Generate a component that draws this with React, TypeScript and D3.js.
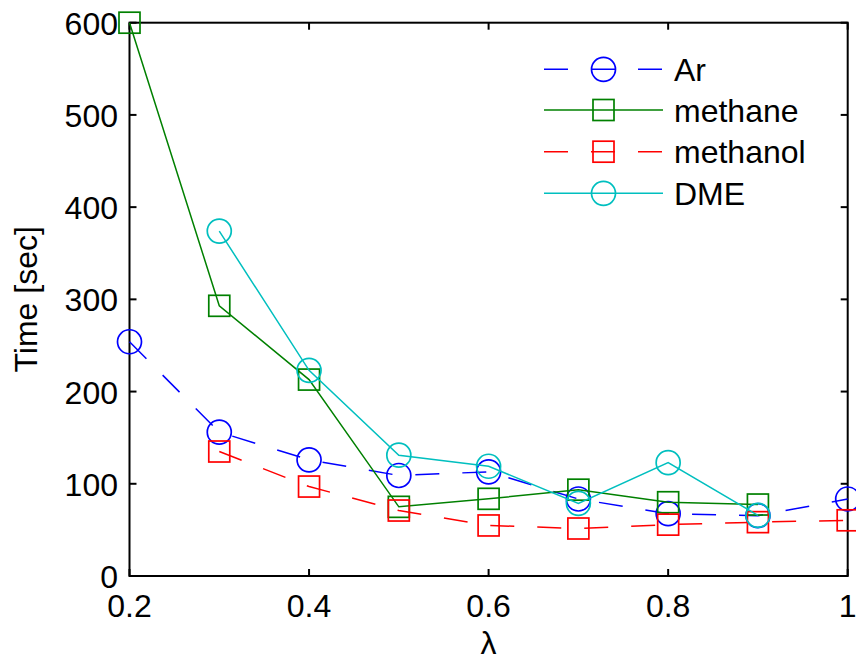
import React from 'react';
import * as d3 from 'd3';

// lambda values and measured times [sec]
const lambdas = [0.2, 0.3, 0.4, 0.5, 0.6, 0.7, 0.8, 0.9, 1.0];
const arTimes = [254, 156, 126, 109, 113, 83.5, 67.6, 65.4, 83.5];
const methaneLambdas = [0.2, 0.3, 0.4, 0.5, 0.6, 0.7, 0.8, 0.9];
const methaneTimes = [600, 293, 213, 75, 83.7, 93.6, 80, 77.5];
const methanolLambdas = [0.3, 0.4, 0.5, 0.6, 0.7, 0.8, 0.9, 1.0];
const methanolTimes = [135, 97, 71, 54.8, 51.5, 55.7, 58.4, 60.4];
const dmeLambdas = [0.3, 0.4, 0.5, 0.6, 0.7, 0.8, 0.9];
const dmeTimes = [374, 223, 131, 119, 78.8, 122.9, 65.8];

const xTicks = [0.2, 0.4, 0.6, 0.8, 1];
const yTicks = [0, 100, 200, 300, 400, 500, 600];

const series = [
  { name: 'Ar', xs: lambdas, ys: arTimes, color: '#0000ff', dash: '24,23', marker: 'circle' },
  { name: 'methane', xs: methaneLambdas, ys: methaneTimes, color: '#008000', dash: null, marker: 'square' },
  { name: 'methanol', xs: methanolLambdas, ys: methanolTimes, color: '#ff0000', dash: '24,23', marker: 'square' },
  { name: 'DME', xs: dmeLambdas, ys: dmeTimes, color: '#00bfbf', dash: null, marker: 'circle' },
];

const W = 856;
const H = 662;
const left = 129.5;
const right = 847.7;
const top = 22.7;
const bottom = 576;
const font = 'Liberation Sans, Arial, Helvetica, sans-serif';

const Marker = ({ type, x, y, color }) =>
  type === 'circle' ? (
    <circle cx={x} cy={y} r={12} fill="none" stroke={color} strokeWidth={1.7} />
  ) : (
    <rect x={x - 10.5} y={y - 10.5} width={21} height={21} fill="none" stroke={color} strokeWidth={1.7} />
  );

export default function App() {
  const x = d3.scaleLinear().domain([0.2, 1]).range([left, right]);
  const y = d3.scaleLinear().domain([0, 600]).range([bottom, top]);
  const line = d3.line<[number, number]>().x(d => x(d[0])).y(d => y(d[1]));

  const legendX0 = 544;
  const legendX1 = 663;
  const legendMx = 603.5;
  const legendY = [69.3, 110, 151.7, 193.3];

  return (
    <svg width={W} height={H} style={{ position: 'absolute', left: 0, top: 0, background: '#fff' }}
      fontFamily={font}>
      <rect x={0} y={0} width={W} height={H} fill="#fff" />

      {/* axes box */}
      <rect x={left} y={top} width={right - left} height={bottom - top} fill="none" stroke="#000" strokeWidth={2} />

      {/* x ticks */}
      {xTicks.map(t => (
        <g key={'x' + t}>
          <line x1={x(t)} x2={x(t)} y1={bottom} y2={bottom - 7} stroke="#000" strokeWidth={2} />
          <line x1={x(t)} x2={x(t)} y1={top} y2={top + 7} stroke="#000" strokeWidth={2} />
          <text x={x(t)} y={617} textAnchor="middle" fontSize={32}>{d3.format('~g')(t)}</text>
        </g>
      ))}

      {/* y ticks */}
      {yTicks.map(t => (
        <g key={'y' + t}>
          <line x1={left} x2={left + 7} y1={y(t)} y2={y(t)} stroke="#000" strokeWidth={2} />
          <line x1={right} x2={right - 7} y1={y(t)} y2={y(t)} stroke="#000" strokeWidth={2} />
          <text x={118} y={y(t) + 12} textAnchor="end" fontSize={32}>{t}</text>
        </g>
      ))}

      {/* axis labels */}
      <text x={(left + right) / 2} y={654} textAnchor="middle" fontSize={32}>λ</text>
      <text transform={`translate(37,${(top + bottom) / 2}) rotate(-90)`} textAnchor="middle" fontSize={32}>
        Time [sec]
      </text>

      {/* series */}
      {series.map(s => {
        const pts = s.xs.map((v, i) => [v, s.ys[i]] as [number, number]);
        return (
          <g key={s.name}>
            <path d={line(pts)} fill="none" stroke={s.color} strokeWidth={1.5}
              strokeDasharray={s.dash || undefined} />
            {pts.map((p, i) => (
              <Marker key={i} type={s.marker} x={x(p[0])} y={y(p[1])} color={s.color} />
            ))}
          </g>
        );
      })}

      {/* legend */}
      {series.map((s, i) => (
        <g key={'leg' + s.name}>
          <line x1={legendX0} x2={legendX1} y1={legendY[i]} y2={legendY[i]} stroke={s.color}
            strokeWidth={1.5} strokeDasharray={s.dash || undefined} />
          <Marker type={s.marker} x={legendMx} y={legendY[i]} color={s.color} />
          <text x={674} y={legendY[i] + 11.5} fontSize={32}>{s.name}</text>
        </g>
      ))}
    </svg>
  );
}
